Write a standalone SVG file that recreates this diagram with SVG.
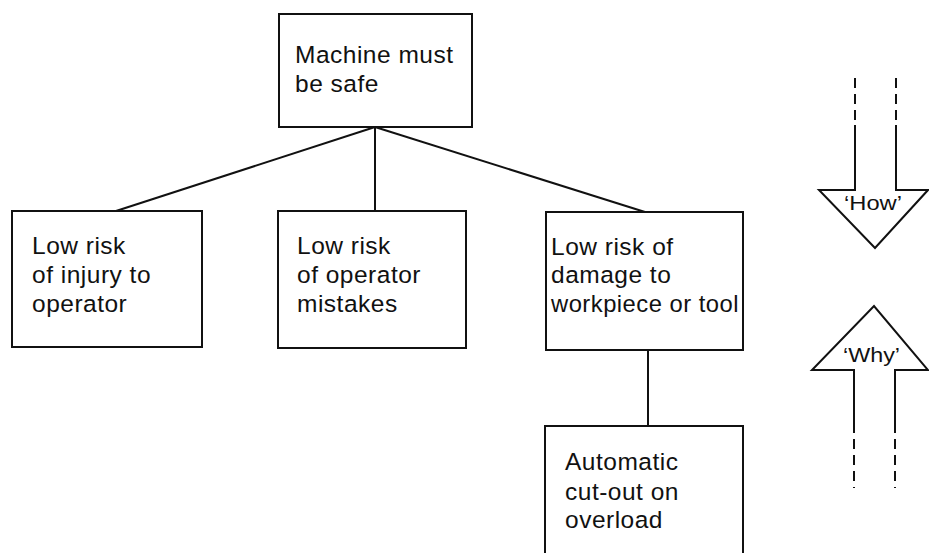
<svg xmlns="http://www.w3.org/2000/svg" width="929" height="553" viewBox="0 0 929 553">
<style>
.box{fill:#fff;stroke:#111;stroke-width:2}
.ln{stroke:#111;stroke-width:2;fill:none}
.dash{stroke:#111;stroke-width:2;fill:none;stroke-dasharray:10 6}
.t{font-family:"Liberation Sans",Arial,sans-serif;font-size:24.5px;letter-spacing:0.5px;fill:#111}
.q{font-family:"Liberation Sans",Arial,sans-serif;font-size:20px;fill:#111}
</style>
<rect width="929" height="553" fill="#fff"/>
<g id="connectors">
<line class="ln" x1="375" y1="127" x2="116" y2="211"/>
<line class="ln" x1="375" y1="127" x2="375" y2="211"/>
<line class="ln" x1="375" y1="127" x2="645" y2="212"/>
<line class="ln" x1="648" y1="350" x2="648" y2="426"/>
</g>
<g id="n-top">
<rect class="box" x="279" y="14" width="193" height="113"/>
<text class="t" x="295" y="63">Machine must</text>
<text class="t" x="295" y="92">be safe</text>
</g>
<g id="n-injury">
<rect class="box" x="12" y="211" width="190" height="136"/>
<text class="t" x="32" y="254">Low risk</text>
<text class="t" x="32" y="283">of injury to</text>
<text class="t" x="32" y="312">operator</text>
</g>
<g id="n-mistakes">
<rect class="box" x="278" y="211" width="188" height="137"/>
<text class="t" x="297" y="254">Low risk</text>
<text class="t" x="297" y="283">of operator</text>
<text class="t" x="297" y="312">mistakes</text>
</g>
<g id="n-damage">
<rect class="box" x="546" y="212" width="197" height="138"/>
<text class="t" x="551" y="255">Low risk of</text>
<text class="t" x="551" y="283">damage to</text>
<text class="t" x="551" y="312" textLength="188" lengthAdjust="spacingAndGlyphs">workpiece or tool</text>
</g>
<g id="n-cutout">
<path class="ln" d="M545,560 V426 H743 V560"/>
<text class="t" x="565" y="470">Automatic</text>
<text class="t" x="565" y="500">cut-out on</text>
<text class="t" x="565" y="528">overload</text>
</g>
<g id="how">
<line class="dash" x1="855" y1="78" x2="855" y2="125"/>
<line class="dash" x1="896" y1="78" x2="896" y2="125"/>
<path class="ln" d="M855,125 V190 H819 L875,248 L928,190 H896 V125"/>
<text class="q" x="844" y="210" textLength="58" lengthAdjust="spacingAndGlyphs">‘How’</text>
</g>
<g id="why">
<line class="dash" x1="854" y1="423" x2="854" y2="488"/>
<line class="dash" x1="895" y1="423" x2="895" y2="488"/>
<path class="ln" d="M854,423 V370 H812 L874,306 L928,370 H895 V423"/>
<text class="q" x="843" y="362" textLength="57" lengthAdjust="spacingAndGlyphs">‘Why’</text>
</g>
</svg>
